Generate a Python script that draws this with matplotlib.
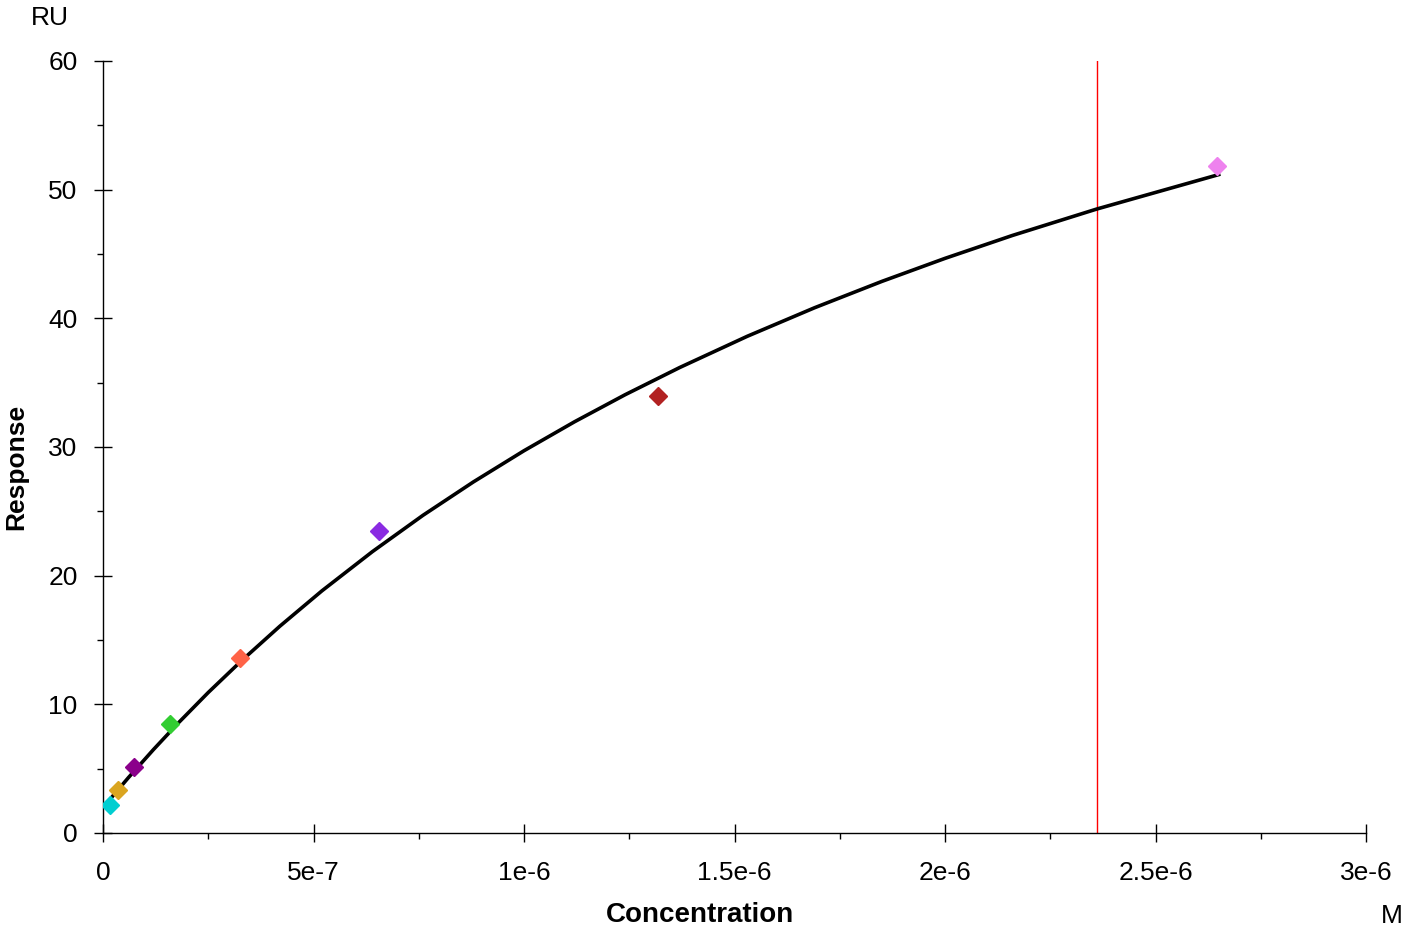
import matplotlib
matplotlib.use("Agg")
import matplotlib.pyplot as plt
from matplotlib.ticker import MultipleLocator, FixedLocator, FixedFormatter

plt.rcParams["font.family"] = ["Liberation Sans", "DejaVu Sans"]

# measured points (concentration in M, response in RU)
conc = [1.66e-8, 3.49e-8, 7.43e-8, 1.59e-7, 3.25e-7, 6.56e-7, 1.319e-6, 2.645e-6]
resp = [2.18, 3.34, 5.11, 8.44, 13.62, 23.47, 33.96, 51.81]
point_colors = ["#00CED1", "#DAA520", "#8B008B", "#32CD32",
                "#FF6347", "#8A2BE2", "#B22222", "#EE82EE"]

# fitted curve
fit_conc = [7e-9, 6e-8, 1.2e-7, 1.8e-7, 2.5e-7, 3.3e-7, 4.2e-7, 5.2e-7, 6.4e-7,
            7.6e-7, 8.8e-7, 1.0e-6, 1.12e-6, 1.24e-6, 1.37e-6, 1.53e-6,
            1.69e-6, 1.85e-6, 2.0e-6, 2.16e-6, 2.36e-6, 2.65e-6]
fit_resp = [2.25, 4.29, 6.49, 8.59, 10.92, 13.42, 16.07, 18.82, 21.87, 24.69,
            27.29, 29.71, 31.96, 34.06, 36.18, 38.60, 40.82, 42.87, 44.66,
            46.44, 48.49, 51.17]

marker_conc = 2.36e-6

x_ticks = [0, 5e-7, 1e-6, 1.5e-6, 2e-6, 2.5e-6, 3e-6]
x_labels = ["0", "5e-7", "1e-6", "1.5e-6", "2e-6", "2.5e-6", "3e-6"]
y_ticks = [0, 10, 20, 30, 40, 50, 60]

fig = plt.figure(figsize=(14.01, 9.32), dpi=100)
ax = fig.add_axes([103 / 1401, 1 - 833 / 932, (1366 - 103) / 1401, (833 - 61) / 932])

ax.plot(fit_conc, fit_resp, color="black", lw=2.6, zorder=3)
for c, r, col in zip(conc, resp, point_colors):
    ax.plot(c, r, marker="D", ms=9.5, color=col, mec=col, ls="none", zorder=4)
ax.plot([marker_conc, marker_conc], [0, 60], color="red", lw=1, zorder=2)

ax.set_xlim(0, 3e-6)
ax.set_ylim(0, 60)
ax.xaxis.set_major_locator(FixedLocator(x_ticks))
ax.xaxis.set_major_formatter(FixedFormatter(x_labels))
ax.xaxis.set_minor_locator(MultipleLocator(2.5e-7))
ax.yaxis.set_major_locator(FixedLocator(y_ticks))
ax.yaxis.set_minor_locator(MultipleLocator(5))

for s in ["top", "right"]:
    ax.spines[s].set_visible(False)
for s in ["left", "bottom"]:
    ax.spines[s].set_linewidth(1.0)

ax.tick_params(which="major", direction="inout", length=12.5, width=1,
               labelsize=19)
ax.tick_params(axis="x", which="major", pad=14)
ax.tick_params(axis="y", which="major", pad=12)
ax.tick_params(which="minor", direction="out", length=4.5, width=1)

fig.text(50 / 1401, 1 - 18 / 932, "RU", fontsize=19, ha="center", va="center")
fig.text(1392 / 1401, 1 - 916 / 932, "M", fontsize=19, ha="center", va="center")
fig.text(700 / 1401, 1 - 915 / 932, "Concentration", fontsize=20,
         fontweight="bold", ha="center", va="center")
fig.text(16 / 1401, 1 - 467 / 932, "Response", fontsize=19, fontweight="bold",
         rotation=90, ha="center", va="center")

fig.savefig("out.png", dpi=100, facecolor="white")
